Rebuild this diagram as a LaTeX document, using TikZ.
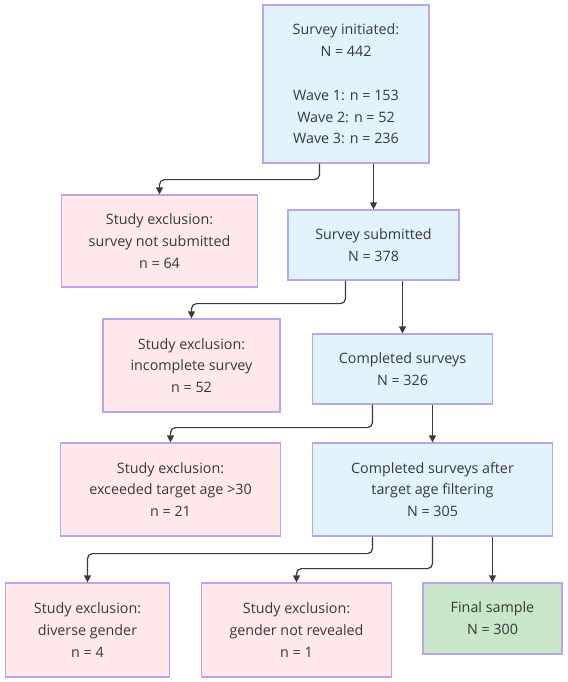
\documentclass[tikz,border=0pt]{standalone}
\usepackage{fontspec}
\setmainfont{Open Sans}
\usetikzlibrary{arrows.meta}
\definecolor{bluefill}{HTML}{E1F3FC}
\definecolor{pinkfill}{HTML}{FFE8EB}
\definecolor{greenfill}{HTML}{C9E6C9}
\definecolor{boxborder}{HTML}{B8A5EA}
\definecolor{txt}{HTML}{383838}
\definecolor{linecol}{HTML}{3A3A3A}
\begin{document}
\begin{tikzpicture}[x=1pt,y=-1pt,
  box/.style={draw=boxborder, line width=1.2pt, text=txt, align=center,
    font=\fontsize{14.3}{21.8}\selectfont, inner sep=0pt},
  bluebox/.style={box, fill=bluefill},
  pinkbox/.style={box, fill=pinkfill},
  greenbox/.style={box, fill=greenfill},
  conn/.style={draw=linecol, line width=1.2pt, rounded corners=5pt,
    -{Triangle[length=7pt,width=7pt]}}
]
\useasboundingbox (0,0) rectangle (567,682);
\fill[white] (0,0) rectangle (567,682);

\node[bluebox, minimum width=166pt, minimum height=158pt] (A) at (346,84)
  {Survey initiated:\\N = 442\\[21.8pt]Wave 1: n = 153\\Wave 2: n = 52\\Wave 3: n = 236};
\node[pinkbox, minimum width=196pt, minimum height=92pt] (B) at (159.5,241)
  {Study exclusion:\\survey not submitted\\n = 64};
\node[bluebox, minimum width=171pt, minimum height=70pt] (C) at (373.5,245)
  {Survey submitted\\N = 378};
\node[pinkbox, minimum width=177pt, minimum height=93pt] (D) at (191.5,365.5)
  {Study exclusion:\\incomplete survey\\n = 52};
\node[bluebox, minimum width=180pt, minimum height=70pt] (E) at (402.5,369)
  {Completed surveys\\N = 326};
\node[pinkbox, minimum width=220pt, minimum height=93pt] (F) at (170.5,489.5)
  {Study exclusion:\\exceeded target age >30\\n = 21};
\node[bluebox, minimum width=240pt, minimum height=93pt] (G) at (432.5,489.5)
  {Completed surveys after\\target age filtering\\N = 305};
\node[pinkbox, minimum width=164pt, minimum height=94pt] (H1) at (87.5,630)
  {Study exclusion:\\diverse gender\\n = 4};
\node[pinkbox, minimum width=190pt, minimum height=94pt] (H2) at (296.5,630)
  {Study exclusion:\\gender not revealed\\n = 1};
\node[greenbox, minimum width=139pt, minimum height=71pt] (H3) at (492.5,618.5)
  {Final sample\\N = 300};

\draw[conn] ([xshift=-26.5pt]A.south) -- ++(0,16) -| (B.north);
\draw[conn] (C.north |- A.south) -- (C.north);
\draw[conn] ([xshift=-28pt]C.south) -- ++(0,23) -| (D.north);
\draw[conn] (E.north |- C.south) -- (E.north);
\draw[conn] ([xshift=-30pt]E.south) -- ++(0,23) -| (F.north);
\draw[conn] (G.north |- E.south) -- (G.north);
\draw[conn] ([xshift=-60pt]G.south) -- ++(0,17) -| (H1.north);
\draw[conn] (G.south) -- ++(0,32) -| (H2.north);
\draw[conn] (H3.north |- G.south) -- (H3.north);
\end{tikzpicture}
\end{document}
